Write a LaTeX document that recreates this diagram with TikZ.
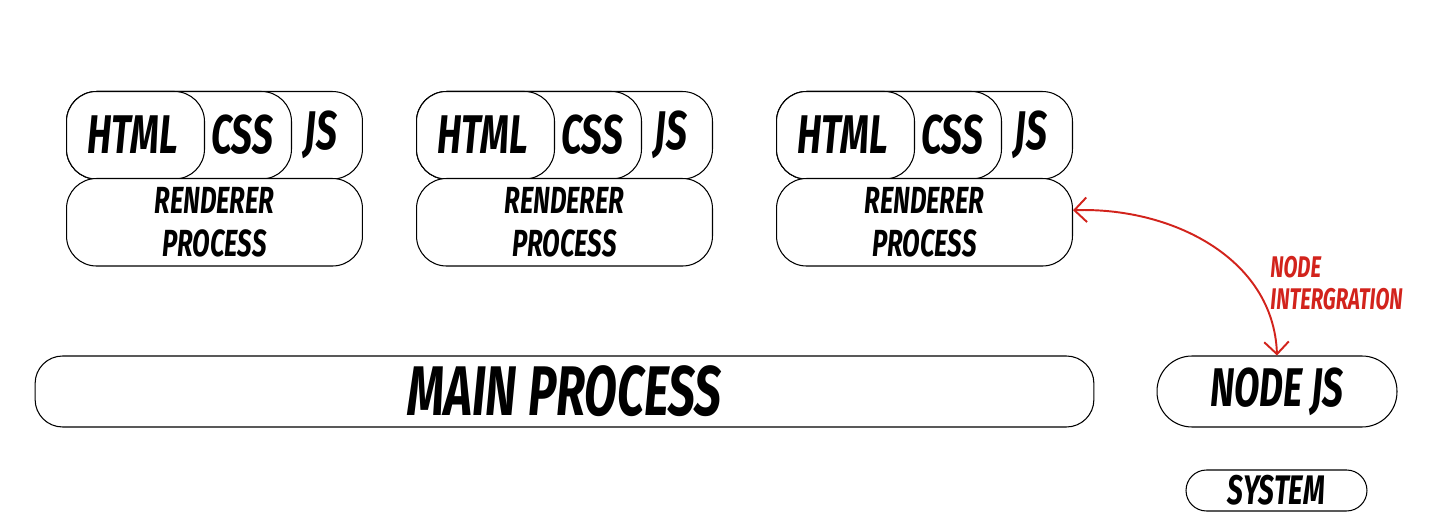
\documentclass[tikz,border=0pt]{standalone}
\usepackage{fontspec}
\setmainfont{Fira Sans}[FakeStretch=0.68]
\usetikzlibrary{positioning,arrows.meta,calc}
\definecolor{linkred}{HTML}{D2231C}

\begin{document}
\begin{tikzpicture}[x=0.02cm,y=-0.02cm,font=\bfseries\itshape,
  box/.style={draw,line width=0.6pt,rounded corners=0.6cm,fill=white,inner sep=0pt,
    minimum height=1.75cm},
  tabtxt/.style={font=\fontsize{31}{31}\selectfont\bfseries\itshape,inner sep=0pt},
  rendtxt/.style={font=\fontsize{21.5}{24}\selectfont\bfseries\itshape,align=center}]
\useasboundingbox (0,0) rectangle (1431,523);
% renderer processes
\foreach \i/\x in {1/66,2/416,3/776}{
  \node[box,anchor=north west,minimum width=5.92cm] (js\i) at (\x,91) {};
  \node[box,anchor=north west,minimum width=4.5cm] (css\i) at (\x,91) {};
  \node[box,anchor=north west,minimum width=2.76cm] (html\i) at (\x,91) {};
  \node[tabtxt] (htmltxt\i) at (\x+67,135) {HTML};
  \node[tabtxt] (csstxt\i) at (\x+176,135) {CSS};
  \node[tabtxt] (jstxt\i) at (\x+255,135) {JS};
  \node[box,rendtxt,anchor=north west,minimum width=5.92cm] (rend\i) at (\x,178)
    {RENDERER\\PROCESS};
}
% main side
\node[box,rounded corners=0.55cm,minimum width=21.18cm,minimum height=1.42cm,
  font=\fontsize{40}{40}\selectfont\bfseries\itshape] (main) at (564.5,391.5) {MAIN PROCESS};
\node[box,rounded corners=0.7cm,minimum width=4.8cm,minimum height=1.42cm,
  font=\fontsize{31}{31}\selectfont\bfseries\itshape] (nodejs) at (1277,391.5) {NODE JS};
\node[box,rounded corners=0.41cm,minimum width=3.62cm,minimum height=0.82cm,
  font=\fontsize{23.5}{23.5}\selectfont\bfseries\itshape] (system) at (1276.5,490.5) {SYSTEM};
% node integration
\coordinate (rport) at ($(rend3.east)+(0,-12)$);
\draw[linkred,line width=1.1pt,{Straight Barb[length=7pt,width=14pt]}-{Straight Barb[length=7pt,width=14pt]}]
  (rport) to[out=2,in=92] (nodejs.north);
\node[text=linkred,align=left,anchor=west,inner sep=0pt,
  font=\fontsize{17}{18.5}\selectfont\bfseries\itshape] (intlbl) at (1270,283)
  {NODE\\INTERGRATION};
\end{tikzpicture}
\end{document}
